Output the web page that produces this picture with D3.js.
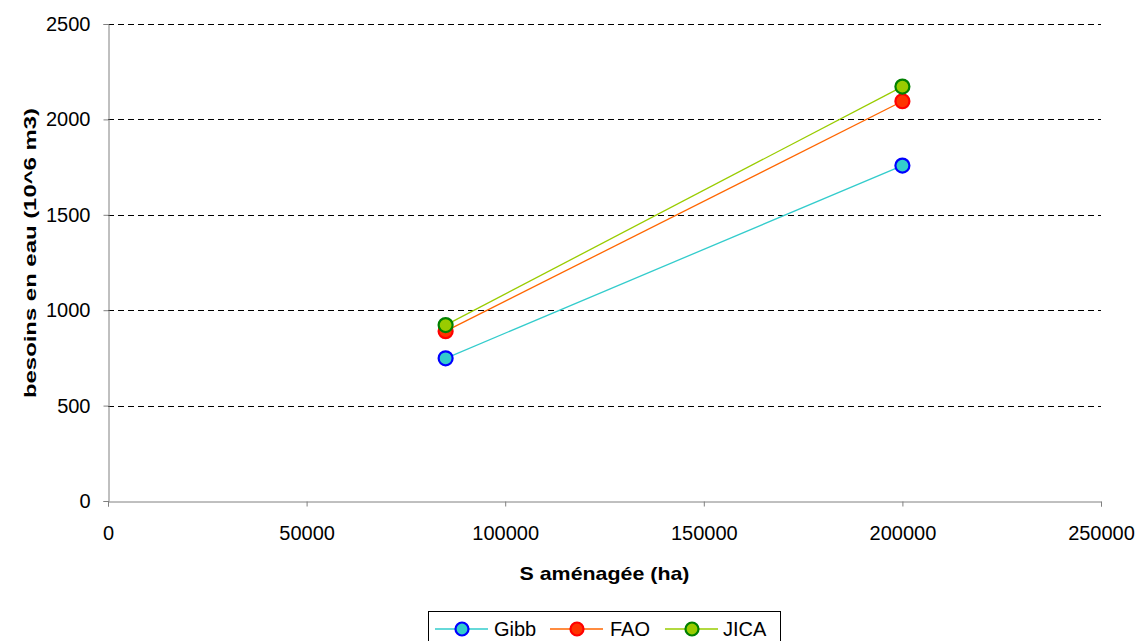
<!DOCTYPE html>
<html>
<head>
<meta charset="utf-8">
<script src="https://cdn.jsdelivr.net/npm/d3@7"></script>
<style>
  body { margin: 0; background: #fff; }
  svg { display: block; font-family: "Liberation Sans", Arial, sans-serif; }
</style>
</head>
<body>
<svg id="chart" width="1137" height="641"></svg>
<script>
// Surface aménagée (ha) and water needs (10^6 m3) per study
const surfaces = [85000, 200000];
const gibb = [748, 1758];
const fao = [890, 2095];
const jica = [922, 2172];
const seriesNames = ["Gibb", "FAO", "JICA"];
const lineColors = ["#33cccc", "#ff6600", "#99cc00"];
const fillColors = ["#33cccc", "#ff3300", "#99cc00"];
const strokeColors = ["#0000ff", "#ff0000", "#008000"];
const xTicks = [0, 50000, 100000, 150000, 200000, 250000];
const yTicks = [0, 500, 1000, 1500, 2000, 2500];

const svg = d3.select("#chart");
const plotLeft = 108, plotRight = 1101, plotTop = 24, plotBottom = 501;

const x = d3.scaleLinear().domain([0, 250000]).range([plotLeft, plotRight]);
const y = d3.scaleLinear().domain([0, 2500]).range([plotBottom, plotTop]);

// horizontal dashed gridlines
svg.append("g").selectAll("line")
  .data(yTicks.filter(d => d > 0))
  .join("line")
  .attr("x1", plotLeft).attr("x2", plotRight)
  .attr("y1", d => Math.round(y(d)) + 0.5).attr("y2", d => Math.round(y(d)) + 0.5)
  .attr("stroke", "#000").attr("stroke-width", 1)
  .attr("stroke-dasharray", "6,4");

// axes
const xAxis = svg.append("g")
  .attr("transform", `translate(0,${plotBottom + 0.5})`)
  .call(d3.axisBottom(x).tickValues(xTicks).tickSize(5).tickPadding(19).tickFormat(d3.format("d")));
const yAxis = svg.append("g")
  .attr("transform", `translate(${plotLeft + 0.5},0)`)
  .call(d3.axisLeft(y).tickValues(yTicks).tickSize(5).tickPadding(13).tickFormat(d3.format("d")));
[xAxis, yAxis].forEach(g => {
  g.select(".domain").attr("stroke", "#808080");
  g.selectAll(".tick line").attr("stroke", "#808080");
  g.selectAll(".tick text").attr("font-size", 20).attr("fill", "#000")
    .attr("font-family", "Liberation Sans, Arial, sans-serif");
});

// axis titles
svg.append("text")
  .attr("x", (plotLeft + plotRight) / 2).attr("y", 580)
  .attr("text-anchor", "middle").attr("font-size", 19).attr("font-weight", "bold")
  .attr("textLength", 170).attr("lengthAdjust", "spacingAndGlyphs")
  .text("S aménagée (ha)");
svg.append("text")
  .attr("transform", `translate(36,253) rotate(-90)`)
  .attr("text-anchor", "middle").attr("font-size", 17).attr("font-weight", "bold")
  .attr("textLength", 290).attr("lengthAdjust", "spacingAndGlyphs")
  .text("besoins en eau (10^6 m3)");

// series lines and markers
const allSeries = [gibb, fao, jica];
const line = d3.line().x((d, i) => x(surfaces[i])).y(d => y(d));
allSeries.forEach((vals, k) => {
  svg.append("path").datum(vals)
    .attr("d", line).attr("fill", "none")
    .attr("stroke", lineColors[k]).attr("stroke-width", 1.3);
});
allSeries.forEach((vals, k) => {
  svg.append("g").selectAll("circle").data(vals).join("circle")
    .attr("cx", (d, i) => x(surfaces[i])).attr("cy", d => y(d))
    .attr("r", 7)
    .attr("fill", fillColors[k]).attr("stroke", strokeColors[k]).attr("stroke-width", 2.2);
});

// legend
const lg = svg.append("g");
lg.append("rect")
  .attr("x", 428.5).attr("y", 611.5).attr("width", 352).attr("height", 34)
  .attr("fill", "#fff").attr("stroke", "#000").attr("stroke-width", 1);
const legendX = [435, 550, 665];
const legendText = [494, 610, 723];
seriesNames.forEach((name, k) => {
  const g = lg.append("g").attr("transform", `translate(${legendX[k]},629)`);
  g.append("line").attr("x1", 0).attr("x2", 53).attr("y1", 0).attr("y2", 0)
    .attr("stroke", lineColors[k]).attr("stroke-width", 1.3);
  g.append("circle").attr("cx", 27).attr("cy", 0).attr("r", 6.5)
    .attr("fill", fillColors[k]).attr("stroke", strokeColors[k]).attr("stroke-width", 2.2);
  lg.append("text").attr("x", legendText[k]).attr("y", 636).attr("font-size", 20).text(name);
});
</script>
</body>
</html>
